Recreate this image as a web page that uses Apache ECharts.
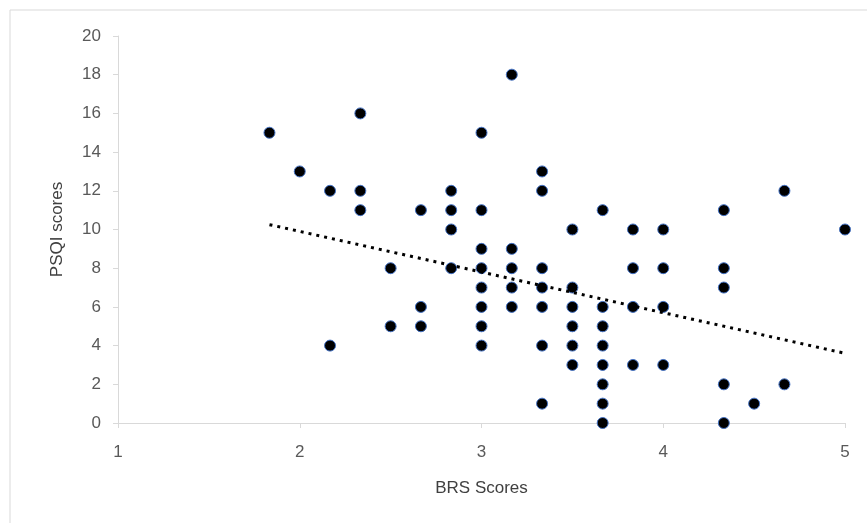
<html>
<head>
    <meta http-equiv="Content-Type" content="text/html; charset=utf-8"/>
    <title>BRS vs PSQI</title>
    <style type="text/css">
        body, #chart {
            border: 0px;
            margin: 0px;
            padding: 0px;
            width: 867px;
            height: 523px;
            background: #ffffff;
        }
    </style>
    <script type="text/javascript" src="https://cdn.jsdelivr.net/npm/echarts@6/dist/echarts.min.js"></script>
    <script type="text/javascript">
        // BRS score columns (steps of 1/6) and the PSQI values seen at each
        var brs = [11/6, 2, 13/6, 14/6, 2.5, 16/6, 17/6, 3, 19/6, 20/6, 3.5, 22/6, 23/6, 4, 26/6, 4.5, 28/6, 5];
        var psqi = [
            [15],
            [13],
            [12, 4],
            [16, 12, 11],
            [8, 5],
            [11, 6, 5],
            [12, 11, 10, 8],
            [15, 11, 9, 8, 7, 6, 5, 4],
            [18, 9, 8, 7, 6],
            [13, 12, 8, 7, 6, 4, 1],
            [10, 7, 6, 5, 4, 3],
            [11, 6, 5, 4, 3, 2, 1, 0],
            [10, 8, 6, 3],
            [10, 8, 6, 3],
            [11, 8, 7, 2, 0],
            [1],
            [12, 2],
            [10]
        ];
        // linear trendline ends
        var trendX = [11/6, 5];
        var trendY = [10.25, 3.6];
        var xTicks = [1, 2, 3, 4, 5];

        function init() {
            var points = [];
            for (var i = 0; i < brs.length; i++) {
                for (var j = 0; j < psqi[i].length; j++) {
                    points.push([brs[i], psqi[i][j]]);
                }
            }
            var trend = [];
            for (var k = 0; k < trendX.length; k++) {
                trend.push([trendX[k], trendY[k]]);
            }
            var font = '"Liberation Sans", "DejaVu Sans", sans-serif';
            var myChart = echarts.init(document.getElementById("chart"));
            var option = {
                animation: false,
                backgroundColor: '#ffffff',
                graphic: [{
                    type: 'rect',
                    shape: {x: 10, y: 10, width: 900, height: 600},
                    style: {fill: 'none', stroke: '#d9d9d9', lineWidth: 1},
                    silent: true
                }],
                grid: {
                    left: 118,
                    right: 22,
                    top: 36,
                    bottom: 100
                },
                xAxis: {
                    type: 'value',
                    min: 1,
                    max: 5,
                    interval: 1,
                    name: 'BRS Scores',
                    nameLocation: 'middle',
                    nameGap: 57,
                    nameTextStyle: {color: '#404040', fontSize: 17, fontFamily: font},
                    axisLine: {show: true, onZero: false, lineStyle: {color: '#d9d9d9', width: 1}},
                    axisTick: {show: true, length: 5, lineStyle: {color: '#d9d9d9'}},
                    axisLabel: {
                        color: '#595959', fontSize: 17, fontFamily: font, margin: 21,
                        formatter: function (v) { return xTicks.indexOf(v) >= 0 ? String(v) : ''; }
                    },
                    splitLine: {show: false}
                },
                yAxis: {
                    type: 'value',
                    min: 0,
                    max: 20,
                    interval: 2,
                    name: 'PSQI scores',
                    nameLocation: 'middle',
                    nameGap: 52,
                    nameTextStyle: {color: '#404040', fontSize: 17, fontFamily: font},
                    axisLine: {show: true, lineStyle: {color: '#d9d9d9', width: 1}},
                    axisTick: {show: true, length: 5, lineStyle: {color: '#d9d9d9'}},
                    axisLabel: {color: '#595959', fontSize: 17, fontFamily: font, margin: 17},
                    splitLine: {show: false}
                },
                series: [
                    {
                        name: 'PSQI',
                        type: 'scatter',
                        symbol: 'circle',
                        symbolSize: 11,
                        itemStyle: {color: '#000000', borderColor: '#4472c4', borderWidth: 1, opacity: 1},
                        data: points,
                        z: 3
                    },
                    {
                        name: 'Trend',
                        type: 'line',
                        symbol: 'none',
                        lineStyle: {color: '#000000', width: 3, type: [3, 5]},
                        data: trend,
                        z: 4
                    }
                ]
            };
            myChart.setOption(option);
        }
    </script>
</head>
<body onLoad="init()">
<div id="chart"></div>
</body>
</html>
